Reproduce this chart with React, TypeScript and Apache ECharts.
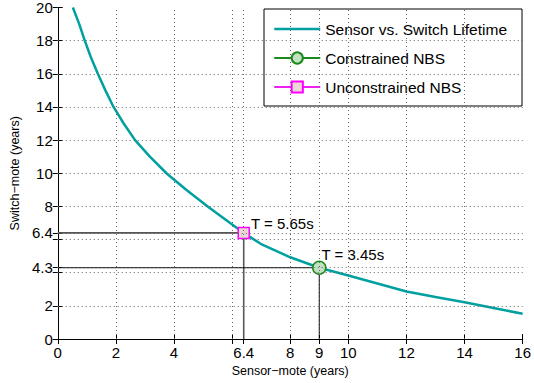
import React, { useEffect, useRef } from "react";
import * as echarts from "echarts";

// Sensor-mote lifetime (x, years) vs. switch-mote lifetime (y, years)
const curveX = [0.52, 0.74, 0.93, 1.14, 1.38, 1.64, 1.92, 2.27, 2.66, 3.17, 3.74, 4.42, 5.16, 5.78, 6.4, 7.0, 8.0, 9.0, 10.0, 11.0, 12.0, 13.0, 14.0, 15.0, 16.0];
const curveY = [20, 19, 18, 17, 16, 15, 14, 13, 12, 11, 10, 9, 8, 7.2, 6.4, 5.73, 4.93, 4.3, 3.83, 3.35, 2.87, 2.54, 2.22, 1.87, 1.52];

const constrainedNBS = [9, 4.3];
const unconstrainedNBS = [6.4, 6.4];
const constrainedLabel = "T = 3.45s";
const unconstrainedLabel = "T = 5.65s";

const xTickValues = [0, 2, 4, 6, 6.4, 8, 9, 10, 12, 14, 16];
const xLabelValues = [0, 2, 4, 6.4, 8, 9, 10, 12, 14, 16];
const yTickValues = [0, 2, 4, 4.3, 6, 6.4, 8, 10, 12, 14, 16, 18, 20];
const yLabelValues = [0, 2, 4.3, 6.4, 8, 10, 12, 14, 16, 18, 20];

const seriesNames = ["Sensor vs. Switch Lifetime", "Constrained NBS", "Unconstrained NBS"];
const xAxisTitle = "Sensor\u2212mote (years)";
const yAxisTitle = "Switch\u2212mote (years)";

const FONT = "'Liberation Sans', Arial, Helvetica, sans-serif";

export default function App() {
  const ref = useRef<HTMLDivElement>(null);
  useEffect(() => {
    if (!ref.current) return;
    const chart = echarts.init(ref.current, null, { renderer: "svg" });
    const gridStyle = { color: "#666", width: 1, type: [1, 3] as any };
    const axisLineStyle = { color: "#000", width: 1 };
    const tick = (vals: number[]) => ({ show: true, inside: true, length: 5, customValues: vals, lineStyle: { color: "#000" } });
    const curve = curveX.map((x, i) => [x, curveY[i]]);
    const guide = (p: number[]) => [[0, p[1]], p, [p[0], 0]];
    const gridLines = [
      ...xTickValues.filter((v) => v > 0 && v < 16).map((v) => ({ xAxis: v })),
      ...yTickValues.filter((v) => v > 0 && v < 20).map((v) => ({ yAxis: v })),
    ];
    chart.setOption({
      animation: false,
      backgroundColor: "#fff",
      textStyle: { fontFamily: FONT },
      grid: { left: 57, right: 8, top: 6, bottom: 44, containLabel: false },
      xAxis: [
        {
          type: "value", min: 0, max: 16, position: "bottom",
          name: xAxisTitle, nameLocation: "middle", nameGap: 23,
          nameTextStyle: { fontSize: 12.5, color: "#000", fontFamily: FONT },
          axisLine: { show: true, lineStyle: axisLineStyle },
          axisTick: tick(xTickValues),
          axisLabel: { customValues: xLabelValues, fontSize: 15, color: "#000", margin: 6, fontFamily: FONT, formatter: (v: number) => String(v), showMinLabel: true, showMaxLabel: true },
          splitLine: { show: false },
        },
        {
          type: "value", min: 0, max: 16, position: "top",
          axisLine: { show: true, lineStyle: axisLineStyle },
          axisTick: tick(xTickValues),
          axisLabel: { show: false },
          splitLine: { show: false },
        },
      ],
      yAxis: [
        {
          type: "value", min: 0, max: 20, position: "left",
          name: yAxisTitle, nameLocation: "middle", nameGap: 30,
          nameTextStyle: { fontSize: 12.5, color: "#000", fontFamily: FONT },
          axisLine: { show: true, lineStyle: axisLineStyle },
          axisTick: tick(yTickValues),
          axisLabel: { customValues: yLabelValues, fontSize: 15, color: "#000", margin: 5, fontFamily: FONT, formatter: (v: number) => String(v), showMinLabel: true, showMaxLabel: true },
          splitLine: { show: false },
        },
        {
          type: "value", min: 0, max: 20, position: "right",
          axisLine: { show: true, lineStyle: axisLineStyle },
          axisTick: tick(yTickValues),
          axisLabel: { show: false },
          splitLine: { show: false },
        },
      ],
      legend: {
        data: [
          { name: seriesNames[0], itemStyle: { opacity: 0 }, lineStyle: { width: 2.5, color: "#00a0a0" } },
          { name: seriesNames[1] },
          { name: seriesNames[2] },
        ],
        orient: "vertical",
        left: 264,
        top: 9,
        padding: [12, 15, 11, 9],
        itemGap: 13,
        itemWidth: 46,
        itemHeight: 14,
        borderColor: "#000",
        borderWidth: 1,
        backgroundColor: "#fff",
        textStyle: { fontSize: 15.5, color: "#000", fontFamily: FONT },
        selectedMode: false,
      },
      series: [
        {
          name: "gridLines", type: "line", data: [], symbol: "none", silent: true, z: 0,
          markLine: {
            silent: true, symbol: ["none", "none"], label: { show: false },
            lineStyle: gridStyle, emphasis: { disabled: true }, data: gridLines,
          },
        },
        {
          name: "guideUnconstrained", type: "line", data: guide(unconstrainedNBS),
          symbol: "none", lineStyle: { color: "#555", width: 1.6 }, z: 1, silent: true,
        },
        {
          name: "guideConstrained", type: "line", data: guide(constrainedNBS),
          symbol: "none", lineStyle: { color: "#000", width: 1 }, z: 1, silent: true,
        },
        {
          name: seriesNames[0], type: "line", data: curve, symbol: "none", smooth: false,
          lineStyle: { color: "#00a0a0", width: 2.5 }, itemStyle: { color: "#00a0a0" }, z: 3,
        },
        {
          name: seriesNames[1], type: "line", data: [constrainedNBS], symbol: "circle", symbolSize: 13,
          lineStyle: { color: "#1a8a1a", width: 1 },
          itemStyle: { color: "#c2e0c2", borderColor: "#1a8a1a", borderWidth: 1.5 },
          label: { show: true, formatter: constrainedLabel, position: "right", distance: 5, offset: [-10, -13], fontSize: 15, color: "#000", fontFamily: FONT },
          z: 4,
        },
        {
          name: seriesNames[2], type: "line", data: [unconstrainedNBS], symbol: "rect", symbolSize: 11,
          lineStyle: { color: "#ee22ee", width: 1 },
          itemStyle: { color: "#ecd6d6", borderColor: "#ff00ff", borderWidth: 1.5 },
          label: { show: true, formatter: unconstrainedLabel, position: "right", distance: 1, offset: [0, -9], fontSize: 15, color: "#000", fontFamily: FONT },
          z: 4,
        },
      ],
    });
    return () => chart.dispose();
  }, []);
  return <div ref={ref} style={{ position: "fixed", left: 0, top: 0, width: 534, height: 383 }} />;
}
